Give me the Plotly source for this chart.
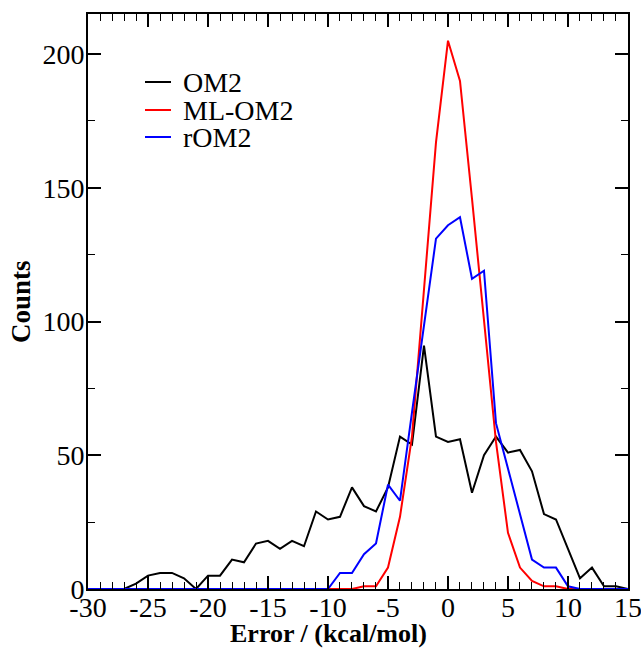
import plotly.graph_objects as go

errors = list(range(-30, 16))
om2 = [0, 0, 0, 0, 2, 5, 6, 6, 4, 0, 5, 5, 11, 10, 17, 18, 15, 18, 16, 29, 26, 27, 38, 31, 29, 38,
       57, 54, 91, 57, 55, 56, 36, 50, 57, 51, 52, 44, 28, 26, 15, 4, 8, 1, 1, 0]
ml_om2 = [0] * 23 + [1, 1, 8, 27, 57, 112, 167, 205, 190, 146, 100, 55, 21, 8, 3, 1, 1, 0, 0, 0, 0, 0, 0]
rom2 = [0] * 21 + [6, 6, 13, 17, 39, 33, 66, 98, 131, 136, 139, 116, 119, 62, 45, 28, 11, 8, 8, 1, 0, 0, 0, 0, 0]

series = [("OM2", om2, "black"), ("ML-OM2", ml_om2, "red"), ("rOM2", rom2, "blue")]
x_ticks = list(range(-30, 16, 5))
y_ticks = [0, 50, 100, 150, 200]

FONT = "Liberation Serif"
W, H = 641, 648
L, R, T, B = 88, 13, 14, 59
PW, PH = W - L - R, H - T - B

def px(xp):
    return (xp - L) / PW

def py(yp):
    return (H - B - yp) / PH

fig = go.Figure()
for name, vals, col in series:
    fig.add_trace(go.Scatter(x=errors, y=vals, mode="lines", name=name,
                             line=dict(color=col, width=2), showlegend=False))

fig.update_layout(
    width=W, height=H,
    margin=dict(l=L, r=R, t=T, b=B, autoexpand=False),
    plot_bgcolor="white", paper_bgcolor="white",
    font=dict(family=FONT, size=28, color="black"),
    xaxis=dict(range=[-30, 15.001], tickvals=x_ticks, ticktext=[str(v) for v in x_ticks],
               ticks="inside", ticklen=13, tickwidth=1.5, tickcolor="black",
               minor=dict(ticks="inside", dtick=1, ticklen=7, tickwidth=1, tickcolor="black"),
               showline=True, linecolor="black", linewidth=2, mirror="allticks",
               showgrid=False, zeroline=False, tickfont=dict(size=28), automargin=False,
               ticklabeloverflow="allow", ticklabelstandoff=-8),
    yaxis=dict(range=[0, 215], tickvals=y_ticks, ticktext=[str(v) for v in y_ticks],
               ticks="inside", ticklen=13, tickwidth=1.5, tickcolor="black",
               minor=dict(ticks="inside", dtick=25, ticklen=7, tickwidth=1, tickcolor="black"),
               showline=True, linecolor="black", linewidth=2, mirror="allticks",
               showgrid=False, zeroline=False, tickfont=dict(size=28), automargin=False,
               ticklabeloverflow="allow", ticklabelstandoff=-4),
)

# legend drawn inside the plot, as in the reference
legend_rows = [82, 110, 137]
for (name, vals, col), yp in zip(series, legend_rows):
    fig.add_shape(type="line", xref="paper", yref="paper",
                  x0=px(145), x1=px(171), y0=py(yp), y1=py(yp),
                  line=dict(color=col, width=2))
    fig.add_annotation(text=name, xref="paper", yref="paper", x=px(181), y=py(yp),
                       xanchor="left", yanchor="middle", showarrow=False,
                       font=dict(family=FONT, size=28, color="black"))

fig.add_annotation(text="<b>Error / (kcal/mol)</b>", xref="paper", yref="paper",
                   x=px(328.5), y=py(633), xanchor="center", yanchor="middle",
                   showarrow=False, font=dict(family=FONT, size=26))
fig.add_annotation(text="<b>Counts</b>", xref="paper", yref="paper",
                   x=px(21), y=py(302), xanchor="center", yanchor="middle", textangle=-90,
                   showarrow=False, font=dict(family=FONT, size=27))
fig.write_html("out.html", config={"displayModeBar": False},
               post_script="document.body.style.margin='0';document.body.style.overflow='hidden';")
